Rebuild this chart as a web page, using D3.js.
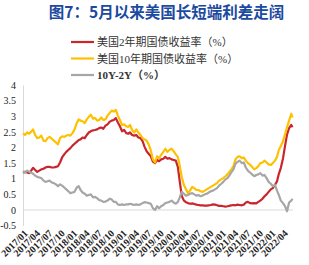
<!DOCTYPE html>
<html>
<head>
<meta charset="utf-8">
<script src="https://cdn.jsdelivr.net/npm/d3@7"></script>
<style>
  body { margin: 0; background: #fff; }
  svg { display: block; }
</style>
</head>
<body>
<div id="chart"></div>
<script>
const dates = [
  "2017-01-01","2017-01-16","2017-02-01","2017-02-16","2017-03-01","2017-03-16","2017-04-01","2017-04-16","2017-05-01","2017-05-16","2017-06-01","2017-06-16",
  "2017-07-01","2017-07-16","2017-08-01","2017-08-16","2017-09-01","2017-09-16","2017-10-01","2017-10-16","2017-11-01","2017-11-16","2017-12-01","2017-12-16",
  "2018-01-01","2018-01-16","2018-02-01","2018-02-16","2018-03-01","2018-03-16","2018-04-01","2018-04-16","2018-05-01","2018-05-16","2018-06-01","2018-06-16",
  "2018-07-01","2018-07-16","2018-08-01","2018-08-16","2018-09-01","2018-09-16","2018-10-01","2018-10-16","2018-11-01","2018-11-16","2018-12-01","2018-12-16",
  "2019-01-01","2019-01-16","2019-02-01","2019-02-16","2019-03-01","2019-03-16","2019-04-01","2019-04-16","2019-05-01","2019-05-16","2019-06-01","2019-06-16",
  "2019-07-01","2019-07-16","2019-08-01","2019-08-16","2019-09-01","2019-09-16","2019-10-01","2019-10-16","2019-11-01","2019-11-16","2019-12-01","2019-12-16",
  "2020-01-01","2020-01-16","2020-02-01","2020-02-16","2020-03-01","2020-03-16","2020-04-01","2020-04-16","2020-05-01","2020-05-16","2020-06-01","2020-06-16",
  "2020-07-01","2020-07-16","2020-08-01","2020-08-16","2020-09-01","2020-09-16","2020-10-01","2020-10-16","2020-11-01","2020-11-16","2020-12-01","2020-12-16",
  "2021-01-01","2021-01-16","2021-02-01","2021-02-16","2021-03-01","2021-03-16","2021-04-01","2021-04-16","2021-05-01","2021-05-16","2021-06-01","2021-06-16",
  "2021-07-01","2021-07-16","2021-08-01","2021-08-16","2021-09-01","2021-09-16","2021-10-01","2021-10-16","2021-11-01","2021-11-16","2021-12-01","2021-12-16",
  "2022-01-01","2022-01-16","2022-02-01","2022-02-16","2022-03-01","2022-03-16","2022-04-01","2022-04-16","2022-05-01","2022-05-16","2022-06-01","2022-06-10"
];

// US 2-year treasury yield (%)
const yield2y = [
  1.20, 1.22, 1.20, 1.18, 1.25, 1.35, 1.28, 1.22, 1.26, 1.30, 1.32, 1.36,
  1.38, 1.38, 1.36, 1.36, 1.38, 1.40, 1.52, 1.68, 1.78, 1.86, 1.92, 1.98,
  2.06, 2.12, 2.18, 2.24, 2.26, 2.32, 2.30, 2.40, 2.48, 2.52, 2.55, 2.56,
  2.58, 2.62, 2.64, 2.60, 2.70, 2.74, 2.82, 2.86, 2.88, 2.94, 2.80, 2.68,
  2.52, 2.56, 2.46, 2.44, 2.48, 2.40, 2.38, 2.40, 2.32, 2.30, 2.20, 2.02,
  1.88, 1.80, 1.72, 1.55, 1.50, 1.60, 1.56, 1.62, 1.64, 1.70, 1.64, 1.66,
  1.62, 1.60, 1.58, 1.38, 0.92, 0.45, 0.30, 0.25, 0.22, 0.20, 0.21, 0.19,
  0.17, 0.16, 0.15, 0.15, 0.14, 0.14, 0.15, 0.16, 0.18, 0.17, 0.15, 0.13,
  0.13, 0.12, 0.11, 0.12, 0.13, 0.15, 0.16, 0.15, 0.17, 0.16, 0.15, 0.17,
  0.24, 0.26, 0.22, 0.21, 0.22, 0.21, 0.26, 0.30, 0.36, 0.44, 0.50, 0.58,
  0.66, 0.70, 0.80, 0.92, 1.15, 1.35, 1.65, 2.05, 2.42, 2.62, 2.72, 2.65
];

// US 10-year treasury yield (%)
const yield10y = [
  2.45, 2.40, 2.48, 2.44, 2.50, 2.58, 2.40, 2.30, 2.32, 2.38, 2.22, 2.20,
  2.30, 2.34, 2.28, 2.22, 2.16, 2.10, 2.30, 2.36, 2.34, 2.38, 2.40, 2.38,
  2.46, 2.58, 2.78, 2.90, 2.86, 2.84, 2.78, 2.90, 2.98, 3.05, 2.92, 2.95,
  2.86, 2.88, 2.96, 2.88, 2.90, 3.02, 3.10, 3.18, 3.15, 3.20, 3.02, 2.88,
  2.72, 2.74, 2.68, 2.66, 2.72, 2.56, 2.48, 2.58, 2.48, 2.40, 2.30, 2.26,
  2.22, 2.10, 1.90, 1.62, 1.52, 1.72, 1.66, 1.76, 1.86, 1.96, 1.86, 1.92,
  1.96, 1.88, 1.78, 1.70, 1.42, 1.05, 0.80, 0.66, 0.54, 0.62, 0.74, 0.70,
  0.64, 0.64, 0.60, 0.58, 0.62, 0.66, 0.70, 0.74, 0.78, 0.82, 0.86, 0.94,
  0.98, 1.02, 1.08, 1.14, 1.22, 1.30, 1.40, 1.62, 1.70, 1.72, 1.66, 1.68,
  1.58, 1.50, 1.45, 1.38, 1.30, 1.34, 1.40, 1.50, 1.52, 1.58, 1.52, 1.46,
  1.44, 1.50, 1.58, 1.70, 1.92, 2.05, 2.20, 2.42, 2.65, 2.86, 3.08, 2.96
];

// 10Y-2Y spread (%)
const spread = [
  1.24, 1.20, 1.26, 1.22, 1.20, 1.16, 1.10, 1.06, 1.04, 1.02, 0.94, 0.90,
  0.92, 0.94, 0.88, 0.86, 0.82, 0.76, 0.82, 0.78, 0.72, 0.66, 0.60, 0.54,
  0.56, 0.58, 0.72, 0.76, 0.64, 0.56, 0.52, 0.46, 0.48, 0.50, 0.40, 0.42,
  0.38, 0.32, 0.30, 0.26, 0.27, 0.30, 0.36, 0.34, 0.26, 0.26, 0.18, 0.16,
  0.18, 0.16, 0.18, 0.18, 0.20, 0.18, 0.16, 0.18, 0.16, 0.18, 0.22, 0.25,
  0.24, 0.22, 0.20, 0.06, 0.00, 0.12, 0.06, 0.12, 0.16, 0.22, 0.24, 0.26,
  0.30, 0.24, 0.20, 0.26, 0.40, 0.58, 0.52, 0.46, 0.48, 0.52, 0.54, 0.50,
  0.46, 0.48, 0.44, 0.46, 0.50, 0.52, 0.56, 0.60, 0.62, 0.66, 0.70, 0.78,
  0.84, 0.90, 0.98, 1.02, 1.10, 1.20, 1.30, 1.48, 1.54, 1.58, 1.50, 1.52,
  1.36, 1.26, 1.20, 1.14, 1.08, 1.12, 1.14, 1.18, 1.10, 1.12, 1.02, 0.90,
  0.84, 0.76, 0.80, 0.62, 0.48, 0.30, 0.22, 0.12, -0.04, 0.24, 0.30, 0.36
];

const seriesNames = ["美国2年期国债收益率（%）", "美国10年期国债收益率（%）", "10Y-2Y（%）"];
const seriesColors = ["#c9252c", "#ffc000", "#a6a6a6"];
const yTicks = [-0.5, 0, 0.5, 1, 1.5, 2, 2.5, 3, 3.5, 4];
const titleText = "图7：5月以来美国长短端利差走阔";

const parse = d3.timeParse("%Y-%m-%d");
const series = [yield2y, yield10y, spread].map((vals, i) => ({
  name: seriesNames[i],
  color: seriesColors[i],
  values: vals.map((v, j) => ({ date: parse(dates[j]), value: v }))
}));

const width = 309, height = 265;
const svg = d3.select('#chart').append('svg')
  .attr('width', width)
  .attr('height', height);

// Scales
const xScale = d3.scaleTime()
  .domain([parse("2017-01-01"), parse("2022-04-01")])
  .range([23, 283]);
const yScale = d3.scaleLinear()
  .domain([-0.5, 4])
  .range([225.6, 85]);

// Title
svg.append('text')
  .attr('x', 166.5)
  .attr('y', 18)
  .attr('text-anchor', 'middle')
  .attr('fill', '#1b4aa0')
  .style('font-family', '"Noto Sans CJK SC", sans-serif')
  .style('font-weight', 'bold')
  .style('font-size', '15.5px')
  .text(titleText);

// Legend
const legend = svg.append('g');
const legendRows = legend.selectAll('g')
  .data(series)
  .join('g')
  .attr('transform', (d, i) => `translate(0, ${42 + i * 16.5})`);
legendRows.append('line')
  .attr('x1', 71).attr('x2', 94)
  .attr('stroke', d => d.color)
  .attr('stroke-width', 2.2);
legendRows.append('text')
  .attr('x', 97)
  .attr('y', 4)
  .attr('fill', '#333')
  .style('font-family', '"Liberation Serif", "Noto Sans CJK SC", serif')
  .style('font-size', '11px')
  .style('font-weight', (d, i) => i === 2 ? 'bold' : 'normal')
  .text(d => d.name);

// Y axis
const yAxis = d3.axisLeft(yScale)
  .tickValues(yTicks)
  .tickSize(0)
  .tickPadding(7)
  .tickFormat(d => d);
const yAxisGroup = svg.append('g')
  .attr('transform', 'translate(23, 0)')
  .call(yAxis);
yAxisGroup.select('.domain').attr('stroke', '#d9d9d9');
yAxisGroup.selectAll('text')
  .attr('fill', '#222')
  .style('font-family', '"Liberation Serif", serif')
  .style('font-size', '10px');

// Zero line
svg.append('line')
  .attr('x1', 23)
  .attr('x2', 293)
  .attr('y1', yScale(0))
  .attr('y2', yScale(0))
  .attr('stroke', '#d9d9d9')
  .attr('stroke-width', 1);

// X axis labels, rotated, below the plot
const xAxis = d3.axisBottom(xScale)
  .ticks(d3.timeMonth.every(3))
  .tickSize(0)
  .tickPadding(0)
  .tickFormat(d3.timeFormat("%Y/%m"));
const xAxisGroup = svg.append('g')
  .attr('transform', 'translate(0, 229)')
  .call(xAxis);
xAxisGroup.select('.domain').remove();
xAxisGroup.selectAll('text')
  .attr('text-anchor', 'end')
  .attr('dy', '0.7em')
  .attr('transform', 'rotate(-45)')
  .attr('fill', '#222')
  .style('font-family', '"Liberation Serif", serif')
  .style('font-weight', 'bold')
  .style('font-size', '10px');

// Lines
const line = d3.line()
  .x(d => xScale(d.date))
  .y(d => yScale(d.value));
svg.append('g')
  .selectAll('path')
  .data(series)
  .join('path')
  .attr('fill', 'none')
  .attr('stroke', d => d.color)
  .attr('stroke-width', 2.2)
  .attr('stroke-linejoin', 'round')
  .attr('d', d => line(d.values));
</script>
</body>
</html>
